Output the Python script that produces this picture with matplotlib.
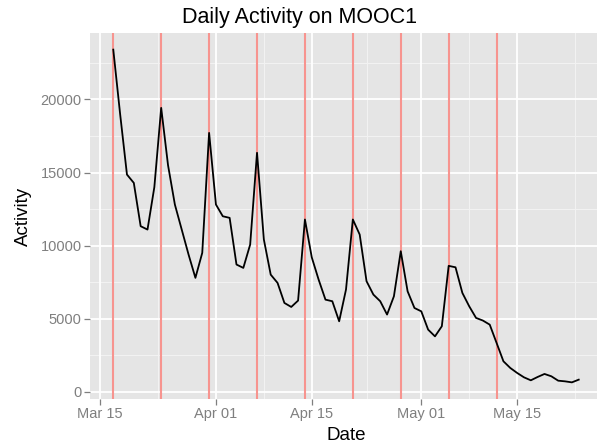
import numpy as np
import pandas as pd
import matplotlib
matplotlib.use("Agg")
import matplotlib.pyplot as plt
import matplotlib.dates as mdates

plt.rcParams['font.family'] = ['Liberation Sans', 'DejaVu Sans']

# daily activity, one value per day starting Mar 17
start_date = "2013-03-17"
activity = [
    23400, 19000, 14860, 14290, 11330, 11100, 14000, 19420, 15500, 12810,
    11100, 9390, 7800, 9510, 17710,
    12810, 12010, 11900, 8710, 8480, 10075, 16350, 10420, 8020, 7455,
    6085, 5810, 6245, 11790, 9200, 7680, 6310, 6200, 4830, 7000,
    11790, 10760, 7570, 6655, 6200, 5290, 6540, 9620, 6880, 5740,
    5510, 4260, 3800, 4490, 8620, 8520, 6770, 5855, 5060, 4880,
    4600, 3350, 2095, 1640, 1300, 1000, 795, 1025, 1230, 1070,
    770, 725, 655, 840,
]
week_marks = ["2013-03-17", "2013-03-24", "2013-03-31", "2013-04-07",
              "2013-04-14", "2013-04-21", "2013-04-28", "2013-05-05",
              "2013-05-12"]
x_breaks = ["2013-03-15", "2013-04-01", "2013-04-15", "2013-05-01", "2013-05-15"]
x_minor = ["2013-03-23 12:00", "2013-04-08", "2013-04-23", "2013-05-08", "2013-05-23 12:00"]
y_breaks = [0, 5000, 10000, 15000, 20000]
y_minor = [2500, 7500, 12500, 17500, 22500]

dates = pd.date_range(start_date, periods=len(activity), freq="D")

W, H = 597, 447
fig = plt.figure(figsize=(W / 100, H / 100), dpi=100)
ax = fig.add_axes([90 / W, 1 - 399 / H, 512 / W, 366 / H])
ax.set_facecolor('#E5E5E5')

for d in x_minor:
    ax.axvline(pd.Timestamp(d), color='#F2F2F2', lw=0.8, zorder=0)
for v in y_minor:
    ax.axhline(v, color='#F2F2F2', lw=0.8, zorder=0)
for d in x_breaks:
    ax.axvline(pd.Timestamp(d), color='white', lw=1.3, zorder=0)
for v in y_breaks:
    ax.axhline(v, color='white', lw=1.3, zorder=0)

for d in week_marks:
    ax.axvline(pd.Timestamp(d), color='#F7948F', lw=1.5, zorder=1)

ax.plot(dates, activity, color='black', lw=1.3, zorder=2)

# ggplot-style 5% expansion
span = dates[-1] - dates[0]
ax.set_xlim(dates[0] - span * 0.05, dates[-1] + span * 0.05)
vmin, vmax = min(activity), max(activity)
pad = (vmax - vmin) * 0.05
ax.set_ylim(vmin - pad, vmax + pad)

ax.set_xticks([pd.Timestamp(d) for d in x_breaks])
ax.xaxis.set_major_formatter(mdates.DateFormatter('%b %d'))
ax.set_yticks(y_breaks)
ax.tick_params(colors='#7F7F7F', labelcolor='#7F7F7F', labelsize=10.5,
               length=4, width=0.9, pad=2)
for s in ax.spines.values():
    s.set_visible(False)

ax.set_xlabel('Date', fontsize=13.5, labelpad=4)
ax.set_ylabel('Activity', fontsize=13.5, labelpad=6)
fig.text(300 / W, 1 - 17 / H, 'Daily Activity on MOOC1', fontsize=15.5,
         ha='center', va='center')

fig.savefig('out.png', dpi=100)
